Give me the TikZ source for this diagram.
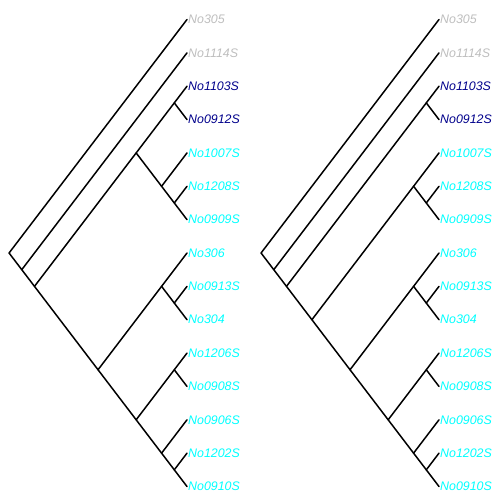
\documentclass[tikz,border=0pt]{standalone}
\usepackage{fontspec}
\setsansfont{Liberation Sans}
\usepackage{xcolor}
\usepackage{tikz}
\definecolor{tipgrey}{HTML}{BEBEBE}
\definecolor{tipnavy}{HTML}{00008B}
\definecolor{tipcyan}{HTML}{00FFFF}

% Blattnamen mit Farbe (Reihenfolge von oben nach unten)
\def\tiplist{1/No305/tipgrey, 2/No1114S/tipgrey, 3/No1103S/tipnavy, 4/No0912S/tipnavy,
  5/No1007S/tipcyan, 6/No1208S/tipcyan, 7/No0909S/tipcyan, 8/No306/tipcyan,
  9/No0913S/tipcyan, 10/No304/tipcyan, 11/No1206S/tipcyan, 12/No0908S/tipcyan,
  13/No0906S/tipcyan, 14/No1202S/tipcyan, 15/No0910S/tipcyan}

\begin{document}
\begin{tikzpicture}[
    x=12.71pt, y=-33.357pt,
    edge/.style={draw, line width=1.5pt, line cap=round, line join=round},
    tip/.style={anchor=west, inner sep=1pt, font=\fontsize{12.4}{14}\selectfont\sffamily\itshape}
]
\useasboundingbox (0pt,-13.857pt) rectangle (504pt,-517.857pt);

% Linker Baum
\begin{scope}[xshift=187pt]
\foreach \i/\lab/\col in \tiplist
    \node[tip, text=\col] (L-t\i) at (0,\i) {\lab};

% innere Knoten
\coordinate (L-r) at (-14,8);
\coordinate (L-n2) at (-13,8.5);
\coordinate (L-n3) at (-12,9);
\coordinate (L-x) at (-4,5);
\coordinate (L-a) at (-1,3.5);
\coordinate (L-b) at (-2,6);
\coordinate (L-c) at (-1,6.5);
\coordinate (L-y) at (-7,11.5);
\coordinate (L-e) at (-2,9);
\coordinate (L-d) at (-1,9.5);
\coordinate (L-z) at (-4,13);
\coordinate (L-f) at (-1,11.5);
\coordinate (L-w) at (-2,14);
\coordinate (L-v) at (-1,14.5);

% Kanten
\draw[edge] (L-t1.west) -- (L-r) -- (L-n2);
\draw[edge] (L-t2.west) -- (L-n2) -- (L-n3);
\draw[edge] (L-x) -- (L-n3) -- (L-y);
\draw[edge] (L-a) -- (L-x) -- (L-b);
\draw[edge] (L-t3.west) -- (L-a) -- (L-t4.west);
\draw[edge] (L-t5.west) -- (L-b) -- (L-c);
\draw[edge] (L-t6.west) -- (L-c) -- (L-t7.west);
\draw[edge] (L-e) -- (L-y) -- (L-z);
\draw[edge] (L-t8.west) -- (L-e) -- (L-d);
\draw[edge] (L-t9.west) -- (L-d) -- (L-t10.west);
\draw[edge] (L-f) -- (L-z) -- (L-w);
\draw[edge] (L-t11.west) -- (L-f) -- (L-t12.west);
\draw[edge] (L-t13.west) -- (L-w) -- (L-v);
\draw[edge] (L-t14.west) -- (L-v) -- (L-t15.west);
\end{scope}

% Rechter Baum
\begin{scope}[xshift=439pt]
\foreach \i/\lab/\col in \tiplist
    \node[tip, text=\col] (R-t\i) at (0,\i) {\lab};

% innere Knoten
\coordinate (R-r) at (-14,8);
\coordinate (R-n2) at (-13,8.5);
\coordinate (R-n3) at (-12,9);
\coordinate (R-a) at (-1,3.5);
\coordinate (R-n4) at (-10,10);
\coordinate (R-b) at (-2,6);
\coordinate (R-c) at (-1,6.5);
\coordinate (R-y) at (-7,11.5);
\coordinate (R-e) at (-2,9);
\coordinate (R-d) at (-1,9.5);
\coordinate (R-z) at (-4,13);
\coordinate (R-f) at (-1,11.5);
\coordinate (R-w) at (-2,14);
\coordinate (R-v) at (-1,14.5);

% Kanten
\draw[edge] (R-t1.west) -- (R-r) -- (R-n2);
\draw[edge] (R-t2.west) -- (R-n2) -- (R-n3);
\draw[edge] (R-a) -- (R-n3) -- (R-n4);
\draw[edge] (R-t3.west) -- (R-a) -- (R-t4.west);
\draw[edge] (R-b) -- (R-n4) -- (R-y);
\draw[edge] (R-t5.west) -- (R-b) -- (R-c);
\draw[edge] (R-t6.west) -- (R-c) -- (R-t7.west);
\draw[edge] (R-e) -- (R-y) -- (R-z);
\draw[edge] (R-t8.west) -- (R-e) -- (R-d);
\draw[edge] (R-t9.west) -- (R-d) -- (R-t10.west);
\draw[edge] (R-f) -- (R-z) -- (R-w);
\draw[edge] (R-t11.west) -- (R-f) -- (R-t12.west);
\draw[edge] (R-t13.west) -- (R-w) -- (R-v);
\draw[edge] (R-t14.west) -- (R-v) -- (R-t15.west);
\end{scope}

\end{tikzpicture}
\end{document}
